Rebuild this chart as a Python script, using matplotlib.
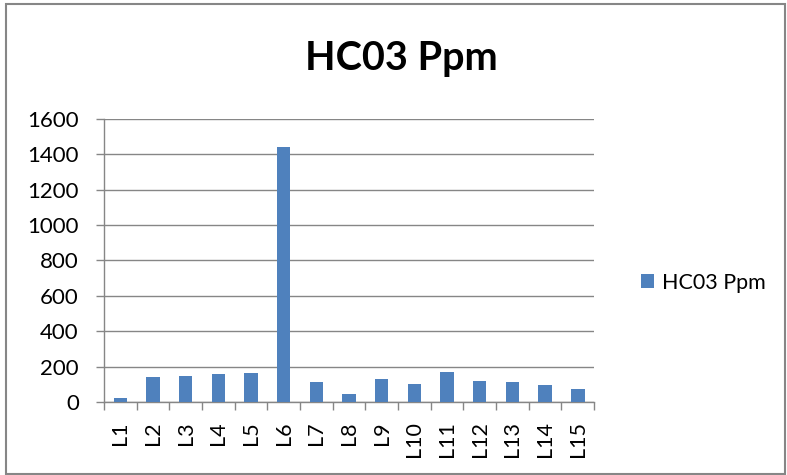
import matplotlib.pyplot as plt
from matplotlib.patches import Rectangle

# Data
labels = ['L1', 'L2', 'L3', 'L4', 'L5', 'L6', 'L7', 'L8', 'L9', 'L10',
          'L11', 'L12', 'L13', 'L14', 'L15']
hco3_ppm = [21, 140, 149, 158, 166, 1440, 111, 43, 128, 102,
            172, 121, 115, 96, 75]
y_ticks = [0, 200, 400, 600, 800, 1000, 1200, 1400, 1600]

plt.rcParams['font.family'] = ['Lato', 'DejaVu Sans']

fig = plt.figure(figsize=(7.87, 4.75), dpi=100)
ax = fig.add_axes([0.132, 0.1537, 0.623, 0.5958])

x = range(len(labels))
ax.bar(x, hco3_ppm, width=0.41, color='#4f81bd', zorder=3, label='HC03 Ppm')

ax.set_xlim(-0.5, len(labels) - 0.5)
ax.set_ylim(0, 1600)
ax.set_yticks(y_ticks)
ax.set_yticklabels([str(v) for v in y_ticks], fontsize=16)

# category labels centred, tick marks between categories
ax.set_xticks(list(x))
ax.set_xticklabels(labels, rotation=90, fontsize=15.5)
ax.tick_params(axis='x', length=0, pad=14)
ax.set_xticks([i - 0.5 for i in range(len(labels) + 1)], minor=True)
ax.tick_params(axis='x', which='minor', length=6, color='#868686', width=1)
ax.tick_params(axis='y', length=6, color='#868686', width=1, pad=12)

ax.grid(axis='y', color='#868686', linewidth=1, zorder=0)
for side in ['top', 'right']:
    ax.spines[side].set_visible(False)
for side in ['left', 'bottom']:
    ax.spines[side].set_color('#868686')
    ax.spines[side].set_linewidth(1)

fig.suptitle('HC03 Ppm', x=0.51, y=0.915, fontsize=28.5, fontweight='bold')

leg = fig.legend(loc='center left', bbox_to_anchor=(0.79, 0.405), frameon=False,
                 fontsize=15.5, handlelength=0.6, handleheight=0.6, handletextpad=0.35)

# outer chart border
fig.patches.append(Rectangle((6 / 787, 1 / 475), 779 / 787, 470 / 475,
                             transform=fig.transFigure,
                             fill=False, edgecolor='#868686', linewidth=1.5))

fig.savefig('out.png', dpi=100)
